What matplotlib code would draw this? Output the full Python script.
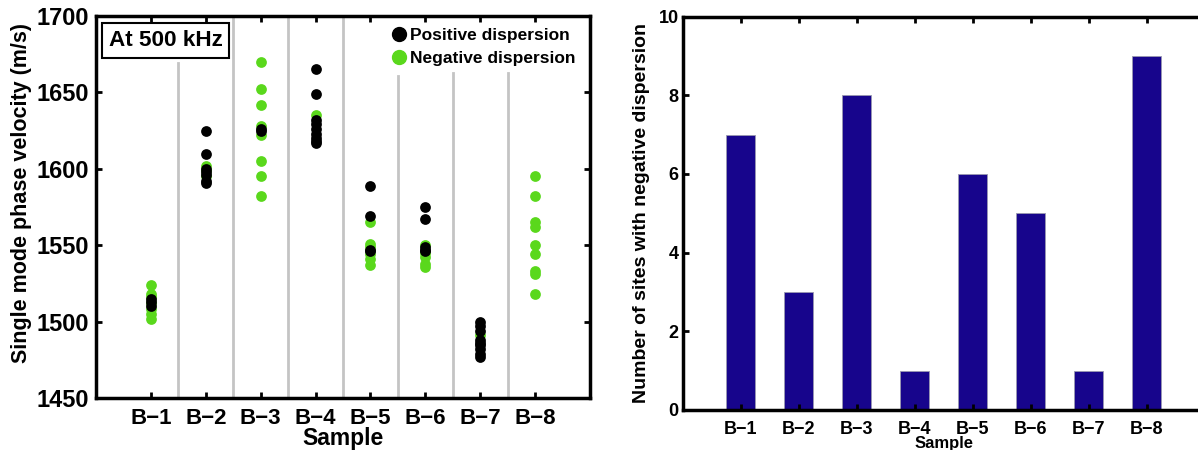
import matplotlib
matplotlib.use("Agg")
import matplotlib.pyplot as plt
from matplotlib.lines import Line2D

plt.rcParams['font.family'] = ['Liberation Sans', 'DejaVu Sans']
plt.rcParams['font.weight'] = 'bold'

samples = ["B\u22121", "B\u22122", "B\u22123", "B\u22124", "B\u22125", "B\u22126", "B\u22127", "B\u22128"]

positive_velocity = [
    [1515, 1513, 1510],
    [1625, 1610, 1600, 1598, 1596, 1592, 1591],
    [1626, 1625],
    [1665, 1649, 1632, 1629, 1626, 1623, 1620, 1618, 1617],
    [1589, 1569, 1547, 1546],
    [1575, 1567, 1549, 1547, 1546],
    [1500, 1497, 1494, 1488, 1485, 1482, 1479, 1477, 1486],
    [],
]
negative_velocity = [
    [1524, 1518, 1516, 1512, 1508, 1505, 1502],
    [1602, 1599, 1595],
    [1670, 1652, 1642, 1628, 1622, 1605, 1595.5, 1582],
    [1635],
    [1565, 1551, 1549, 1544, 1541, 1537],
    [1550, 1545, 1542, 1538, 1536],
    [1491],
    [1595, 1582, 1565, 1562, 1550, 1544, 1533, 1531, 1518],
]
negative_counts = [7, 3, 8, 1, 6, 5, 1, 9]

separator_tops = [1669, 1700, 1700, 1700, 1661, 1663, 1663]

GREEN = '#5ad81c'
NAVY = '#17058c'

fig = plt.figure(figsize=(11.98, 4.5), dpi=100)

# ---------- Left panel ----------
ax1 = fig.add_axes([96/1198, 1-398/450, (590-96)/1198, (398-16)/450])
positions = list(range(1, len(samples) + 1))
for i, top in enumerate(separator_tops):
    ax1.plot([i + 1.5, i + 1.5], [1450, top], color='#c4c4c4', lw=2, zorder=1)
for i, vals in enumerate(negative_velocity):
    ax1.scatter([positions[i]] * len(vals), vals, s=60, color=GREEN, linewidths=0, zorder=2)
for i, vals in enumerate(positive_velocity):
    ax1.scatter([positions[i]] * len(vals), vals, s=60, color='black', linewidths=0, zorder=3)

ax1.set_xlim(0, 9)
ax1.set_ylim(1450, 1700)
ax1.set_xticks(positions)
ax1.set_xticklabels(samples, fontsize=16, fontweight='bold')
ax1.set_yticks([1450, 1500, 1550, 1600, 1650, 1700])
ax1.set_yticklabels(['1450', '1500', '1550', '1600', '1650', '1700'], fontsize=17, fontweight='bold')
ax1.tick_params(axis='y', direction='in', length=4, width=2, right=True, pad=5)
ax1.tick_params(axis='x', direction='in', length=4, width=2, top=True, pad=7)
ax1.set_ylabel("Single mode phase velocity (m/s)", fontsize=15.5, fontweight='bold', labelpad=3)
ax1.yaxis.label.set_y(0.537)
ax1.set_xlabel("Sample", fontsize=16.5, fontweight='bold', labelpad=-1.5)
for sp in ax1.spines.values():
    sp.set_linewidth(2.5)

ax1.text(0.026, 0.963, "At 500 kHz", transform=ax1.transAxes, fontsize=16.2, fontweight='bold',
         va='top', ha='left',
         bbox=dict(boxstyle='square,pad=0.3', facecolor='white', edgecolor='black', linewidth=1.5))

handles = [Line2D([], [], marker='o', color='black', ls='none', markersize=10),
           Line2D([], [], marker='o', color=GREEN, ls='none', markersize=10)]
ax1.legend(handles, ["Positive dispersion", "Negative dispersion"], loc='upper right',
           frameon=False, prop={'weight': 'bold', 'size': 12.5},
           handletextpad=0.1, borderaxespad=0.3, labelspacing=0.45, handlelength=1.0,
           bbox_to_anchor=(0.995, 1.0))

# ---------- Right panel ----------
ax2 = fig.add_axes([683/1198, 1-410/450, (1204.5-683)/1198, (410-16.5)/450])
ax2.bar(positions, negative_counts, width=0.5, color=NAVY, edgecolor='#9a9ab0', linewidth=0.6)
ax2.set_xlim(0, 9)
ax2.set_ylim(0, 10)
ax2.set_xticks(positions)
ax2.set_xticklabels(samples, fontsize=13, fontweight='bold')
ax2.set_yticks([0, 2, 4, 6, 8, 10])
ax2.set_yticklabels(['0', '2', '4', '6', '8', '10'], fontsize=13, fontweight='bold')
ax2.tick_params(axis='y', direction='in', length=4, width=2, right=True, pad=3)
ax2.tick_params(axis='x', direction='in', length=4, width=2, top=True, pad=8)
ax2.set_ylabel("Number of sites with negative dispersion", fontsize=14, fontweight='bold', labelpad=6)
ax2.set_xlabel("Sample", fontsize=12, fontweight='bold', labelpad=-1.5)
for sp in ax2.spines.values():
    sp.set_linewidth(2.5)

fig.savefig("out.png", dpi=100)
